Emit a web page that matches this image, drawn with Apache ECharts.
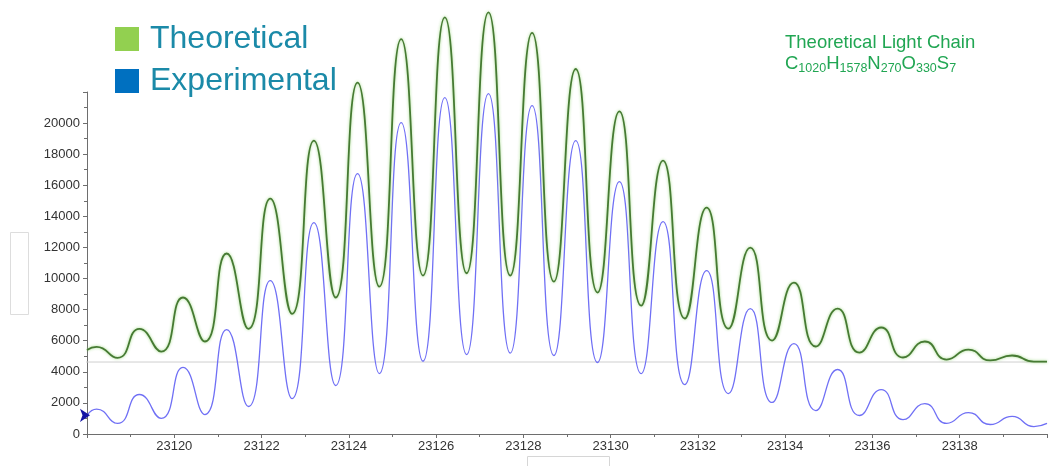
<!DOCTYPE html>
<html>
<head>
<meta charset="utf-8">
<script src="https://cdn.jsdelivr.net/npm/echarts@6/dist/echarts.min.js"></script>
<style>
  html, body { margin: 0; padding: 0; background: #ffffff; }
  #chart { width: 1054px; height: 466px; }
</style>
</head>
<body>
<div id="chart"></div>
<script>
// Isotope envelope of the light chain: mass (Da) sampled at each peak apex and valley
const massPoints = [
  23118.0, 23118.22, 23118.7, 23119.2, 23119.7, 23120.2, 23120.7, 23121.2, 23121.7,
  23122.2, 23122.7, 23123.2, 23123.7, 23124.2, 23124.7, 23125.2, 23125.7, 23126.2,
  23126.7, 23127.2, 23127.7, 23128.2, 23128.7, 23129.2, 23129.7, 23130.2, 23130.7,
  23131.2, 23131.7, 23132.2, 23132.7, 23133.2, 23133.7, 23134.2, 23134.7, 23135.2,
  23135.7, 23136.2, 23136.7, 23137.2, 23137.7, 23138.2, 23138.7, 23139.2, 23139.7,
  23140.0
];

const experimental = [
  1200, 1600, 680, 2540, 1000, 4280, 1250, 6720, 1770,
  9870, 2280, 13600, 3120, 16750, 3890, 20030, 4680, 21640,
  5110, 21890, 5200, 21120, 5050, 18870, 4600, 16240, 3890,
  13660, 3180, 10510, 2600, 8070, 2030, 5820, 1510, 4150,
  1190, 2860, 930, 1960, 680, 1380, 610, 1130, 480,
  680
];

const theoretical = [
  5410, 5600, 4900, 6760, 5300, 8780, 5950, 11610, 6760,
  15140, 7730, 18870, 8780, 22600, 9480, 25400, 10190, 26800,
  10340, 27120, 10190, 25800, 9800, 23480, 9100, 20760, 8260,
  17590, 7430, 14560, 6780, 11990, 6010, 9740, 5630, 8070,
  5240, 6850, 4920, 5950, 4790, 5430, 4730, 5050, 4660,
  4660
];

// Offset baseline of the theoretical trace, drawn from the label gutter to the right edge
const baselineMass = [23117.13, 23140.0];
const baselineLevel = [4630, 4630];

const legendNames = ['Theoretical', 'Experimental'];
const legendColors = ['#92d050', '#0070c0'];

const xRange = [23118, 23140];
const yRange = [0, 22000];

const FONT = '"Liberation Sans", Arial, sans-serif';

const pairs = (xs, ys) => xs.map((x, i) => [x, ys[i]]);
const plain = (v) => String(v);

const chart = echarts.init(document.getElementById('chart'), null, { renderer: 'canvas' });

chart.setOption({
  backgroundColor: '#ffffff',
  animation: false,
  textStyle: { fontFamily: FONT },
  title: {
    left: 785,
    top: 33,
    padding: 0,
    itemGap: 0,
    text: 'Theoretical Light Chain',
    textStyle: { fontFamily: FONT, fontSize: 18.5, fontWeight: 'normal', color: '#21a653', lineHeight: 20 },
    subtext: '{b|C}{s|1020}{b|H}{s|1578}{b|N}{s|270}{b|O}{s|330}{b|S}{s|7}',
    subtextStyle: {
      rich: {
        b: { fontFamily: FONT, fontSize: 18.5, color: '#21a653', lineHeight: 22 },
        s: { fontFamily: FONT, fontSize: 12.5, color: '#21a653', lineHeight: 12, verticalAlign: 'bottom' }
      }
    }
  },
  legend: {
    orient: 'vertical',
    left: 115,
    top: 23,
    padding: 0,
    icon: 'rect',
    itemWidth: 24,
    itemHeight: 24,
    itemGap: 10,
    selectedMode: false,
    textStyle: { fontFamily: FONT, fontSize: 32, lineHeight: 24, color: '#1b8aa8', padding: [0, 0, 0, 6] },
    data: legendNames.map((n, i) => ({ name: n, itemStyle: { color: legendColors[i] } }))
  },
  grid: { left: 87, right: 7, top: 92, bottom: 32, containLabel: false },
  xAxis: {
    type: 'value',
    min: xRange[0],
    max: xRange[1],
    interval: 2,
    axisLine: { show: true, lineStyle: { color: '#6e6e6e', width: 1 } },
    axisTick: { show: true, length: 4, lineStyle: { color: '#6e6e6e' } },
    minorTick: { show: true, splitNumber: 2, length: 3, lineStyle: { color: '#6e6e6e' } },
    splitLine: { show: false },
    axisLabel: {
      showMinLabel: false,
      showMaxLabel: false,
      formatter: plain,
      margin: 6,
      fontSize: 13,
      color: '#333333',
      fontFamily: FONT
    }
  },
  yAxis: {
    type: 'value',
    min: yRange[0],
    max: yRange[1],
    interval: 2000,
    axisLine: { show: true, lineStyle: { color: '#6e6e6e', width: 1 } },
    axisTick: { show: true, length: 4, lineStyle: { color: '#6e6e6e' } },
    minorTick: { show: true, splitNumber: 2, length: 3, lineStyle: { color: '#6e6e6e' } },
    splitLine: { show: false },
    axisLabel: {
      showMaxLabel: false,
      formatter: plain,
      margin: 7,
      fontSize: 13,
      color: '#333333',
      fontFamily: FONT
    }
  },
  series: [
    {
      name: 'baseline',
      type: 'line',
      data: pairs(baselineMass, baselineLevel),
      showSymbol: false,
      clip: false,
      silent: true,
      lineStyle: { color: '#cfcfcf', width: 1 },
      z: 1
    },
    {
      name: 'Experimental',
      type: 'line',
      data: pairs(massPoints, experimental),
      smooth: 0.55,
      showSymbol: false,
      clip: false,
      itemStyle: { color: legendColors[1] },
      lineStyle: { color: '#7070f5', width: 1.3 },
      markPoint: {
        silent: true,
        symbol: 'arrow',
        symbolSize: [10, 10],
        symbolRotate: -90,
        symbolOffset: [3, 0],
        itemStyle: { color: '#1515a5' },
        label: { show: false },
        data: [{ coord: [massPoints[0], experimental[0]] }]
      },
      z: 2
    },
    {
      name: 'Theoretical',
      type: 'line',
      data: pairs(massPoints, theoretical),
      smooth: 0.55,
      showSymbol: false,
      clip: false,
      itemStyle: { color: legendColors[0] },
      lineStyle: {
        color: '#467a33',
        width: 1.8,
        shadowColor: 'rgba(150, 215, 120, 0.9)',
        shadowBlur: 3
      },
      z: 3
    }
  ],
  graphic: [
    {
      type: 'rect',
      left: 8,
      top: 230,
      shape: { width: 18, height: 82 },
      style: { fill: 'none', stroke: '#dddddd', lineWidth: 1 },
      silent: true
    },
    {
      type: 'rect',
      left: 525,
      top: 454,
      shape: { width: 82, height: 20 },
      style: { fill: 'none', stroke: '#d6d6d6', lineWidth: 1 },
      silent: true
    }
  ]
});
</script>
</body>
</html>
